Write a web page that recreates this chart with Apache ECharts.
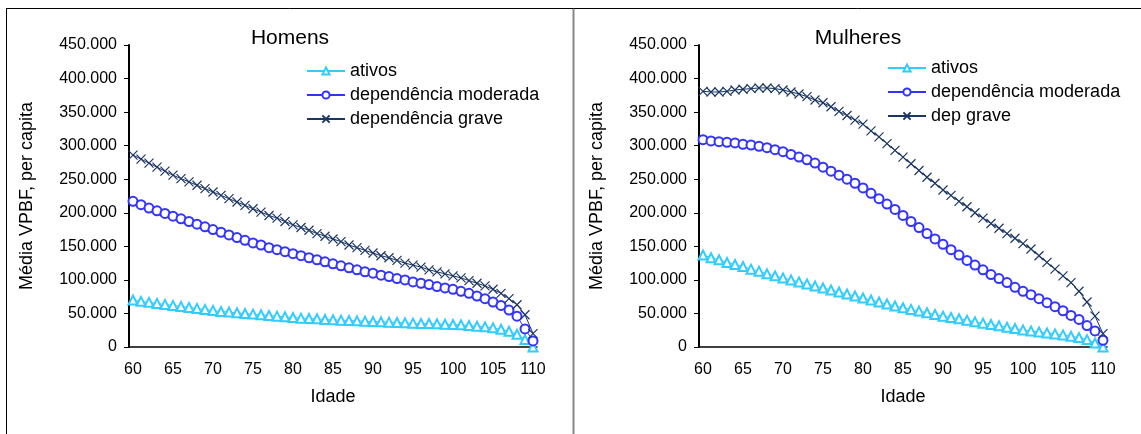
<!DOCTYPE html>
<html>
<head>
<meta charset="utf-8">
<script src="https://cdn.jsdelivr.net/npm/echarts@6/dist/echarts.min.js"></script>
<style>
  html, body { margin: 0; padding: 0; background: #fff; }
  #main { width: 1141px; height: 434px; }
</style>
</head>
<body>
<div id="main"></div>
<script>
// idades 60..110
var idades = [];
for (var a = 60; a <= 110; a++) idades.push(String(a));

// valores em milhares
var homensAtivos = [70, 68, 66.5, 65, 63.5, 62, 60.5, 59, 57.5, 56, 54.5, 53, 52, 51, 50, 49, 48, 47, 46, 45,
  44, 43, 42.5, 42, 41, 40.5, 40, 39.5, 39, 38.5, 38, 37.5, 37, 36.5, 36, 35.5, 35, 35, 34.5, 34,
  33.5, 33, 32, 31, 30, 28.5, 26.5, 23.5, 19, 11, 0];
var homensModerada = [217, 212, 207, 203, 199, 195, 191, 187, 183, 179, 175, 171, 167, 163, 159, 155, 152, 148, 145, 142,
  139, 136, 133, 130, 127, 124, 121, 118, 115, 112, 110, 107, 105, 102, 100, 97, 95, 93, 90, 88,
  86, 83, 80, 76, 72, 67, 62, 55, 46, 27, 9];
var homensGrave = [286, 280, 274, 268, 262, 256, 251, 246, 241, 236, 231, 226, 221, 216, 211, 206, 201, 196, 192, 187,
  182, 178, 174, 169, 165, 161, 157, 152, 148, 144, 140, 136, 133, 129, 125, 122, 119, 115, 112, 109,
  106, 103, 99, 95, 91, 86, 80, 72, 63, 48, 20];

var mulheresAtivos = [137, 133, 130, 126, 123, 120, 116, 113, 109, 106, 103, 100, 97, 94, 91, 88, 85, 82, 79, 76,
  73, 70, 67, 64, 61, 58.5, 56, 53.5, 51, 48.5, 46, 44, 42, 40, 37.5, 35.5, 33.5, 31.5, 29.5, 27.5,
  25.5, 24, 22.5, 21, 19.5, 18, 16, 14, 11, 6, 0];
var mulheresModerada = [309, 307, 306, 305, 304, 302, 301, 299, 297, 294, 291, 287, 283, 279, 274, 268, 262, 256, 250, 244,
  237, 229, 221, 213, 205, 196, 187, 178, 169, 161, 153, 145, 137, 129, 122, 115, 108, 102, 96, 89,
  83, 78, 72, 66, 60, 54, 47, 41, 32, 24, 10];
var mulheresGrave = [381, 380, 380, 381, 383, 384, 385, 386, 386, 385, 383, 380, 377, 373, 368, 364, 358, 351, 345, 338,
  332, 322, 313, 303, 293, 283, 273, 263, 253, 244, 234, 226, 217, 209, 200, 192, 184, 177, 169, 162,
  154, 146, 136, 126, 116, 106, 96, 83, 67, 46, 20];

var corAtivos = '#33CCFF';
var corModerada = '#3333FF';
var corGrave = '#1C3664';
var fonte = 'Liberation Sans, Arial, sans-serif';
var simboloX = 'path://M0,0L10,10M10,0L0,10';

function eixoX(idx) {
    return {
        type: 'category',
        gridIndex: idx,
        data: idades,
        name: 'Idade',
        nameLocation: 'middle',
        nameGap: 41,
        nameTextStyle: { color: '#000', fontSize: 18, fontFamily: fonte },
        axisLine: { lineStyle: { color: '#000', width: 1.5 } },
        axisTick: { interval: 4, length: 4, lineStyle: { color: '#000' } },
        axisLabel: { interval: 4, color: '#000', fontSize: 16, fontFamily: fonte, margin: 15 },
        splitLine: { show: false }
    };
}

function eixoY(idx) {
    return {
        type: 'value',
        gridIndex: idx,
        min: 0,
        max: 450,
        interval: 50,
        name: 'Média VPBF, per capita',
        nameLocation: 'middle',
        nameGap: 93,
        nameTextStyle: { color: '#000', fontSize: 18, fontFamily: fonte },
        axisLine: { show: true, lineStyle: { color: '#000', width: 2 } },
        axisTick: { show: true, length: 5, lineStyle: { color: '#000' } },
        axisLabel: {
            color: '#000', fontSize: 16, fontFamily: fonte, margin: 12,
            formatter: function (v) { return v === 0 ? '0' : v + '.000'; }
        },
        splitLine: { show: false }
    };
}

function serie(nome, dados, idx, cor, simbolo, tamanho) {
    return {
        name: nome,
        type: 'line',
        xAxisIndex: idx,
        yAxisIndex: idx,
        data: dados,
        symbol: simbolo,
        symbolSize: tamanho,
        showAllSymbol: true,
        lineStyle: { color: cor, width: 1 },
        itemStyle: { color: cor, borderColor: cor, borderWidth: 1.2 }
    };
}

var chart = echarts.init(document.getElementById('main'));
var option = {
    animation: false,
    backgroundColor: '#fff',
    title: [
        { text: 'Homens', left: 285, top: 23, textAlign: 'center',
          textStyle: { fontSize: 21, fontWeight: 'normal', color: '#000', fontFamily: fonte } },
        { text: 'Mulheres', left: 853, top: 23, textAlign: 'center',
          textStyle: { fontSize: 21, fontWeight: 'normal', color: '#000', fontFamily: fonte } }
    ],
    legend: [
        { orient: 'vertical', left: 301, top: 57, itemWidth: 38, itemHeight: 9, itemGap: 6,
          data: ['ativos', 'dependência moderada', 'dependência grave'],
          textStyle: { fontSize: 18, color: '#000', fontFamily: fonte } },
        { orient: 'vertical', left: 882, top: 54, itemWidth: 38, itemHeight: 9, itemGap: 6,
          data: ['ativos', 'dependência moderada', 'dep grave'],
          textStyle: { fontSize: 18, color: '#000', fontFamily: fonte } }
    ],
    grid: [
        { left: 129, top: 45, width: 408, height: 302 },
        { left: 699, top: 45, width: 408, height: 302 }
    ],
    xAxis: [eixoX(0), eixoX(1)],
    yAxis: [eixoY(0), eixoY(1)],
    series: [
        serie('ativos', homensAtivos, 0, corAtivos, 'emptyTriangle', 9),
        serie('dependência moderada', homensModerada, 0, corModerada, 'emptyCircle', 9),
        serie('dependência grave', homensGrave, 0, corGrave, simboloX, 9),
        serie('ativos', mulheresAtivos, 1, corAtivos, 'emptyTriangle', 9),
        serie('dependência moderada', mulheresModerada, 1, corModerada, 'emptyCircle', 9),
        serie('dep grave', mulheresGrave, 1, corGrave, simboloX, 9)
    ],
    graphic: [
        { type: 'line', shape: { x1: 6, y1: 8.5, x2: 1141, y2: 8.5 }, style: { stroke: '#000', lineWidth: 1 } },
        { type: 'line', shape: { x1: 6.5, y1: 8, x2: 6.5, y2: 434 }, style: { stroke: '#000', lineWidth: 1 } },
        { type: 'line', shape: { x1: 573.5, y1: 9, x2: 573.5, y2: 434 }, style: { stroke: '#888', lineWidth: 2 } }
    ]
};
chart.setOption(option);
</script>
</body>
</html>
